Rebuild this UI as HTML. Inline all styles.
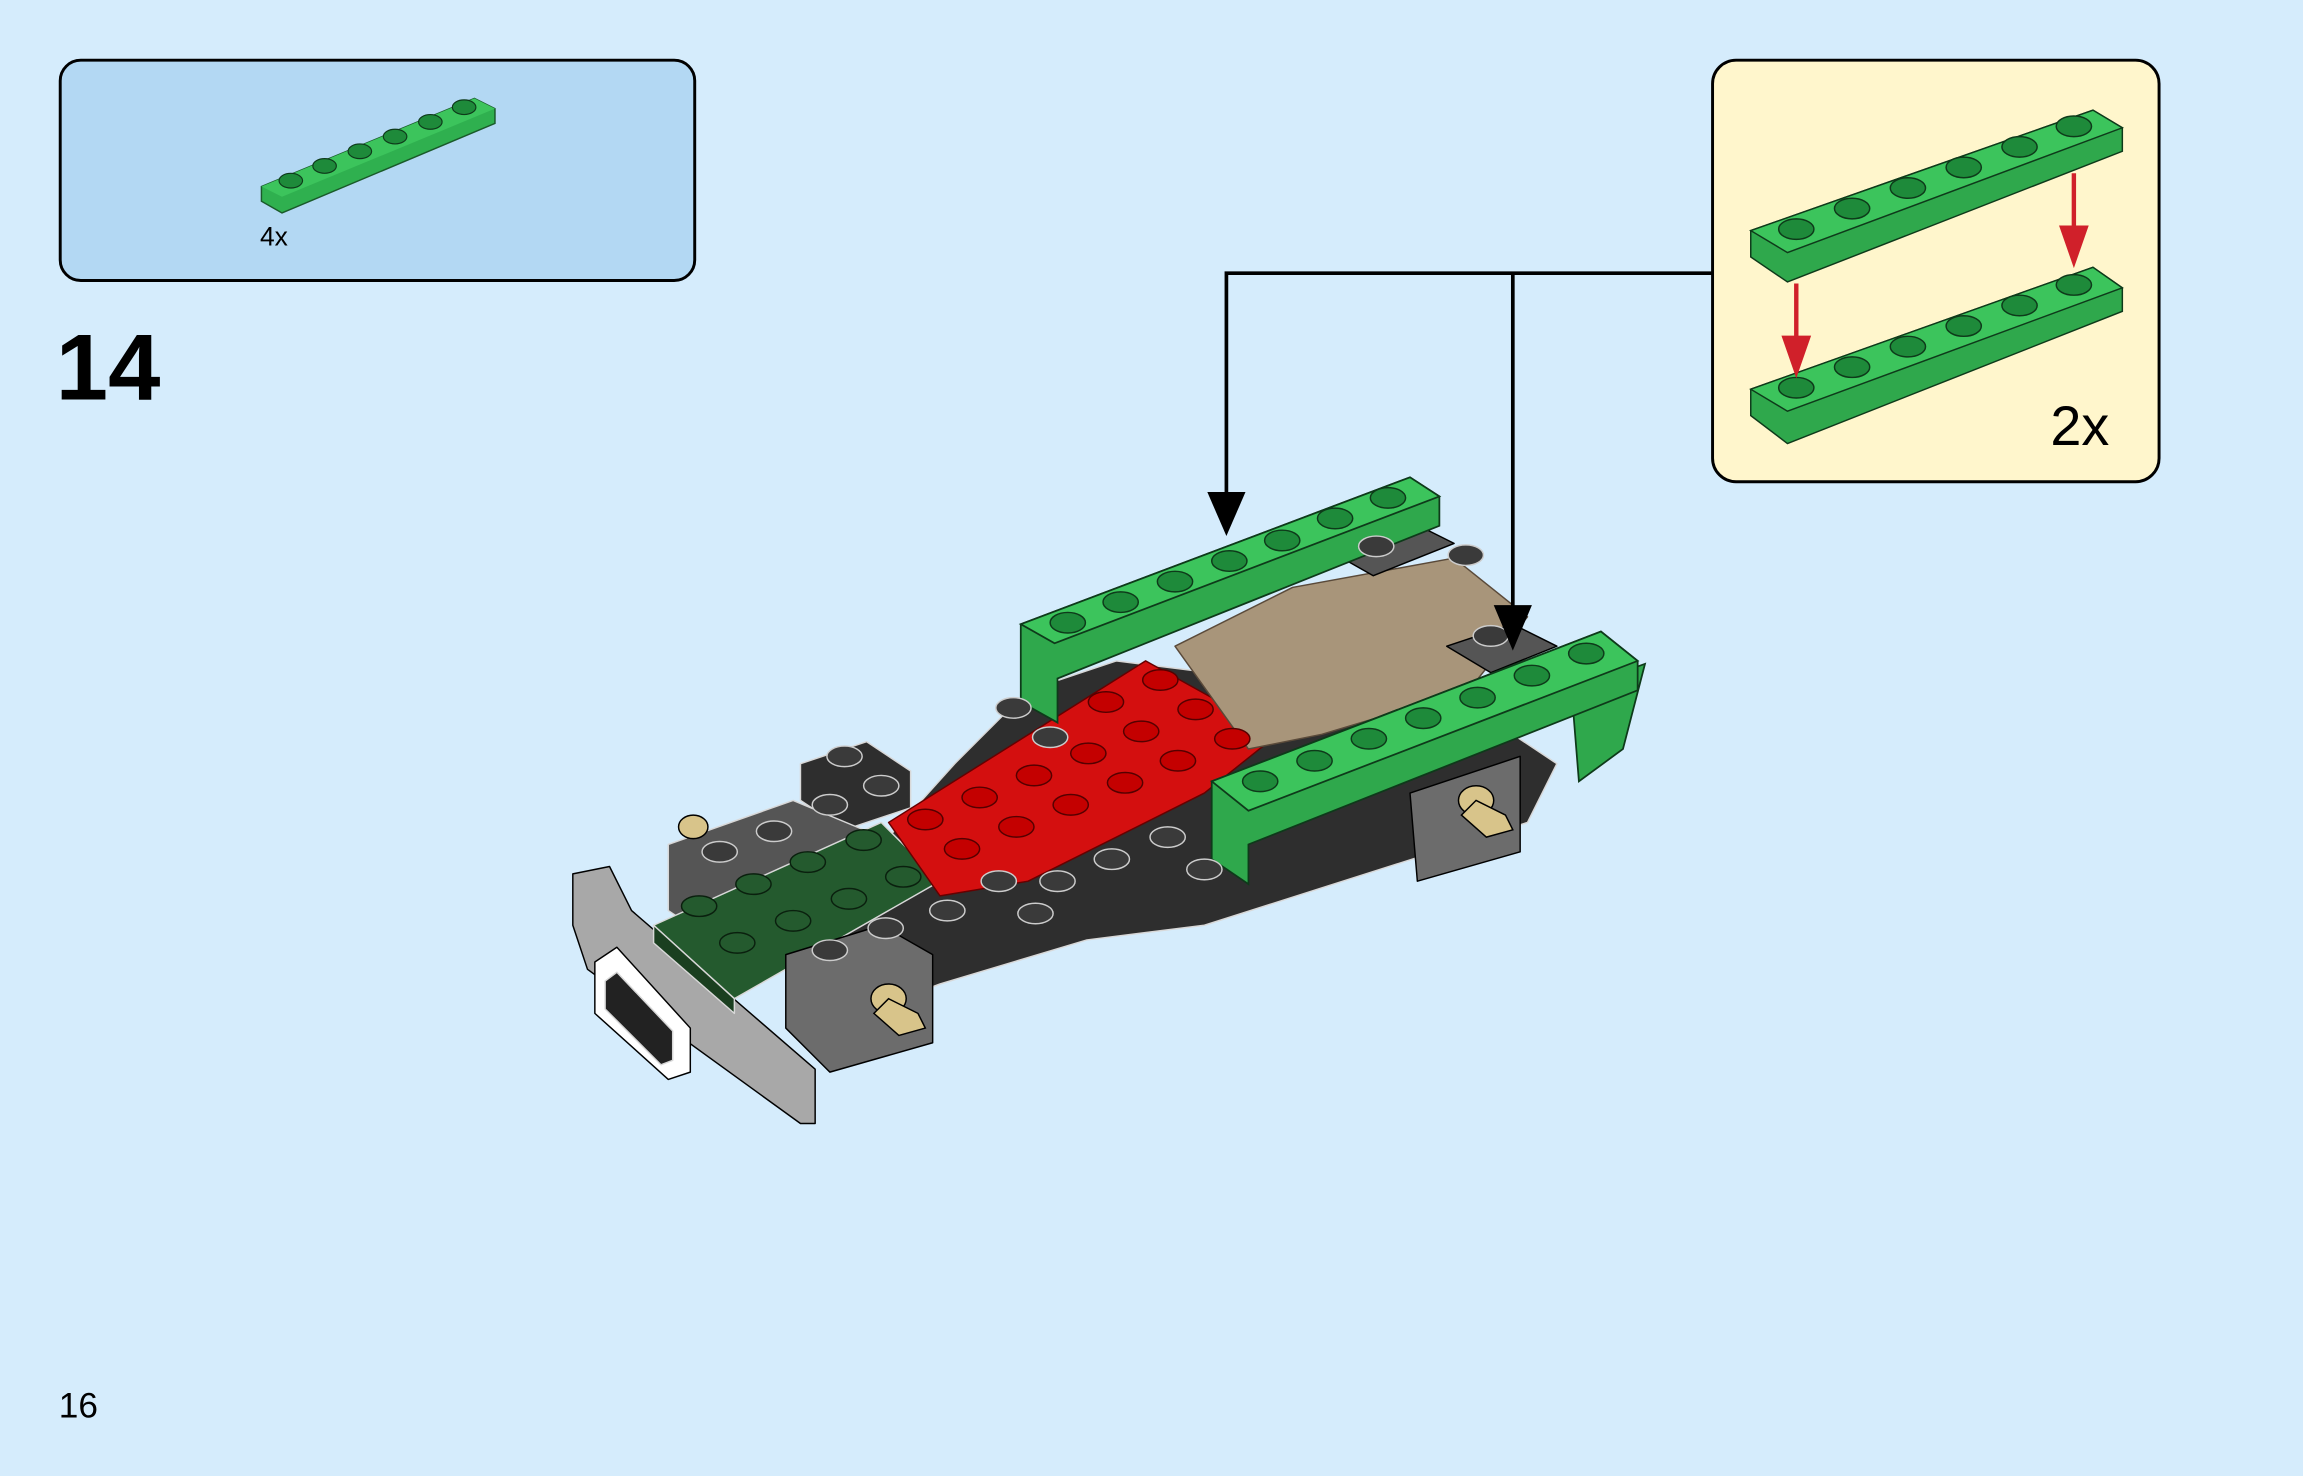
<!DOCTYPE html>
<html><head><meta charset="utf-8"><style>
html,body{margin:0;padding:0;background:#d5ecfc;}
svg{display:block}
text{font-family:"Liberation Sans",sans-serif;}
</style></head><body>
<svg width="2303" height="1476" viewBox="0 0 1568 1005" preserveAspectRatio="none" xmlns="http://www.w3.org/2000/svg">
<rect width="1568" height="1005" fill="#d5ecfc"/>
<!-- parts box -->
<rect x="41" y="41" width="432" height="150" rx="14" fill="#b3d8f3" stroke="#000" stroke-width="2"/>
<polygon points="178,127 323,67 337,74 337,84 192,145 178,137" fill="#2fb04f" stroke="#1a5a2a" stroke-width="1"/>
<polygon points="178,127 323,67 337,74 192,134" fill="#3cc45c"/>
<g fill="#1e8a3a" stroke="#0e3a1a" stroke-width="0.8">
<ellipse cx="198" cy="123" rx="8" ry="5"/><ellipse cx="221" cy="113" rx="8" ry="5"/><ellipse cx="245" cy="103" rx="8" ry="5"/><ellipse cx="269" cy="93" rx="8" ry="5"/><ellipse cx="293" cy="83" rx="8" ry="5"/><ellipse cx="316" cy="73" rx="8" ry="5"/></g>
<text x="177" y="167" font-size="18" fill="#000">4x</text>
<text x="38" y="272" font-size="64" font-weight="bold" fill="#000">14</text>
<text x="40" y="965" font-size="24" fill="#000">16</text>

<!-- callout -->
<rect x="1166" y="41" width="304" height="287" rx="16" fill="#fff6cc" stroke="#000" stroke-width="2"/>
<g stroke="#0e3a1a" stroke-width="1">
<polygon points="1192,157 1425,75 1445,87 1445,103 1217,192 1192,175" fill="#2fa84c"/>
<polygon points="1192,157 1425,75 1445,87 1217,172" fill="#3cc45c"/>
<polygon points="1192,265 1425,182 1445,196 1445,212 1217,302 1192,283" fill="#2fa84c"/>
<polygon points="1192,265 1425,182 1445,196 1217,280" fill="#3cc45c"/>
</g>
<g fill="#1e8a3a" stroke="#0e3a1a" stroke-width="1">
<ellipse cx="1223" cy="156" rx="12" ry="7"/><ellipse cx="1261" cy="142" rx="12" ry="7"/><ellipse cx="1299" cy="128" rx="12" ry="7"/><ellipse cx="1337" cy="114" rx="12" ry="7"/><ellipse cx="1375" cy="100" rx="12" ry="7"/><ellipse cx="1412" cy="86" rx="12" ry="7"/>
<ellipse cx="1223" cy="264" rx="12" ry="7"/><ellipse cx="1261" cy="250" rx="12" ry="7"/><ellipse cx="1299" cy="236" rx="12" ry="7"/><ellipse cx="1337" cy="222" rx="12" ry="7"/><ellipse cx="1375" cy="208" rx="12" ry="7"/><ellipse cx="1412" cy="194" rx="12" ry="7"/>
</g>
<g stroke="#d0202a" stroke-width="3" fill="#d0202a">
<line x1="1412" y1="118" x2="1412" y2="160"/><polygon points="1404,155 1420,155 1412,178"/>
<line x1="1223" y1="193" x2="1223" y2="235"/><polygon points="1215,230 1231,230 1223,253"/>
</g>
<text x="1396" y="303" font-size="38" fill="#000">2x</text>

<!-- model -->
<g stroke="#d8d8d8" stroke-width="1" stroke-linejoin="round">
<polygon points="560,620 650,520 700,470 760,450 1000,480 1060,520 1040,560 820,630 740,640 640,670 560,700" fill="#2e2e2e"/>
<polygon points="545,520 590,505 620,525 620,550 575,565 545,545" fill="#2e2e2e"/>
<polygon points="455,575 540,545 600,570 600,610 500,650 455,620" fill="#555"/>
<polygon points="390,595 415,590 430,620 555,728 555,765 545,765 400,660 390,630" fill="#a8a8a8" stroke="#000"/>
<polygon points="405,655 420,645 470,700 470,730 455,735 405,690" fill="#fff" stroke="#000"/>
<polygon points="412,668 420,662 458,702 458,722 450,725 412,687" fill="#222"/>
<polygon points="445,630 600,560 640,600 500,680" fill="#245a2e"/>
<polygon points="445,630 500,680 500,690 445,642" fill="#1a3f20"/>
<polygon points="535,650 600,630 635,650 635,710 565,730 535,700" fill="#6c6c6c" stroke="#000"/>
<polygon points="605,560 780,450 870,500 820,540 700,600 640,610" fill="#d40f0f" stroke="#600"/>
<polygon points="800,440 880,400 990,380 1040,420 1000,470 900,500 850,510" fill="#a8957a" stroke="#5a4a3a"/>
<polygon points="905,375 960,355 990,370 935,392" fill="#555" stroke="#000"/>
<polygon points="985,440 1030,425 1060,440 1015,458" fill="#555" stroke="#000"/>
<polygon points="960,540 1035,515 1035,580 965,600" fill="#6c6c6c" stroke="#000"/>
</g>
<!-- back green plate -->
<g stroke="#0e3a1a" stroke-width="1.2">
<polygon points="695,425 960,325 980,338 980,358 720,462 720,492 695,478" fill="#2fa84c"/>
<polygon points="695,425 960,325 980,338 718,438" fill="#3cc45c"/>
<!-- front green plate -->
<polygon points="1070,470 1120,452 1105,510 1075,532" fill="#2fa84c"/>
<polygon points="825,532 1090,430 1115,450 1115,470 850,575 850,602 825,585" fill="#2fa84c"/>
<polygon points="825,532 1090,430 1115,450 850,552" fill="#3cc45c"/>
</g>
<g fill="#1e8a3a" stroke="#0e3a1a" stroke-width="1">
<ellipse cx="727" cy="424" rx="12" ry="7"/><ellipse cx="763" cy="410" rx="12" ry="7"/><ellipse cx="800" cy="396" rx="12" ry="7"/><ellipse cx="837" cy="382" rx="12" ry="7"/><ellipse cx="873" cy="368" rx="12" ry="7"/><ellipse cx="909" cy="353" rx="12" ry="7"/><ellipse cx="945" cy="339" rx="12" ry="7"/>
<ellipse cx="858" cy="532" rx="12" ry="7"/><ellipse cx="895" cy="518" rx="12" ry="7"/><ellipse cx="932" cy="503" rx="12" ry="7"/><ellipse cx="969" cy="489" rx="12" ry="7"/><ellipse cx="1006" cy="475" rx="12" ry="7"/><ellipse cx="1043" cy="460" rx="12" ry="7"/><ellipse cx="1080" cy="445" rx="12" ry="7"/>
</g>
<g fill="#c40000" stroke="#500" stroke-width="1">
<ellipse cx="630" cy="558" rx="12" ry="7"/><ellipse cx="667" cy="543" rx="12" ry="7"/><ellipse cx="704" cy="528" rx="12" ry="7"/><ellipse cx="741" cy="513" rx="12" ry="7"/>
<ellipse cx="655" cy="578" rx="12" ry="7"/><ellipse cx="692" cy="563" rx="12" ry="7"/><ellipse cx="729" cy="548" rx="12" ry="7"/><ellipse cx="766" cy="533" rx="12" ry="7"/>
<ellipse cx="753" cy="478" rx="12" ry="7"/><ellipse cx="790" cy="463" rx="12" ry="7"/><ellipse cx="777" cy="498" rx="12" ry="7"/><ellipse cx="814" cy="483" rx="12" ry="7"/><ellipse cx="802" cy="518" rx="12" ry="7"/><ellipse cx="839" cy="503" rx="12" ry="7"/>
</g>
<g fill="#245a2e" stroke="#0a200e" stroke-width="1">
<ellipse cx="476" cy="617" rx="12" ry="7"/><ellipse cx="513" cy="602" rx="12" ry="7"/><ellipse cx="550" cy="587" rx="12" ry="7"/><ellipse cx="588" cy="572" rx="12" ry="7"/>
<ellipse cx="502" cy="642" rx="12" ry="7"/><ellipse cx="540" cy="627" rx="12" ry="7"/><ellipse cx="578" cy="612" rx="12" ry="7"/><ellipse cx="615" cy="597" rx="12" ry="7"/>
</g>
<g fill="#3a3a3a" stroke="#ccc" stroke-width="1">
<ellipse cx="575" cy="515" rx="12" ry="7"/><ellipse cx="690" cy="482" rx="12" ry="7"/><ellipse cx="715" cy="502" rx="12" ry="7"/><ellipse cx="565" cy="548" rx="12" ry="7"/><ellipse cx="600" cy="535" rx="12" ry="7"/>
<ellipse cx="680" cy="600" rx="12" ry="7"/><ellipse cx="720" cy="600" rx="12" ry="7"/><ellipse cx="757" cy="585" rx="12" ry="7"/><ellipse cx="795" cy="570" rx="12" ry="7"/><ellipse cx="820" cy="592" rx="12" ry="7"/><ellipse cx="705" cy="622" rx="12" ry="7"/><ellipse cx="645" cy="620" rx="12" ry="7"/>
<ellipse cx="490" cy="580" rx="12" ry="7"/><ellipse cx="527" cy="566" rx="12" ry="7"/><ellipse cx="565" cy="647" rx="12" ry="7"/><ellipse cx="603" cy="632" rx="12" ry="7"/>
<ellipse cx="937" cy="372" rx="12" ry="7"/><ellipse cx="998" cy="378" rx="12" ry="7"/><ellipse cx="1015" cy="433" rx="12" ry="7"/>
</g>
<g fill="#d8c48a" stroke="#000" stroke-width="1">
<ellipse cx="472" cy="563" rx="10" ry="8"/><ellipse cx="605" cy="680" rx="12" ry="10"/><ellipse cx="1005" cy="545" rx="12" ry="10"/>
<polygon points="605,680 625,690 630,700 612,705 595,690"/><polygon points="1005,545 1025,555 1030,565 1012,570 995,555"/>
</g>
<!-- arrows -->
<g stroke="#000" stroke-width="2.5" fill="none">
<polyline points="1166,186 835,186 835,342"/>
<line x1="1030" y1="186" x2="1030" y2="422"/>
</g>
<polygon points="822,335 848,335 835,365" fill="#000"/>
<polygon points="1017,412 1043,412 1030,443" fill="#000"/>
</svg>
</body></html>
